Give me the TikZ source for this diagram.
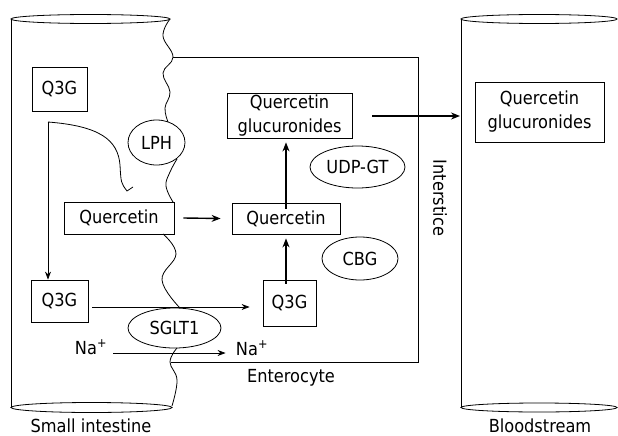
\documentclass[tikz,border=0pt]{standalone}
\usepackage{fontspec}
\setmainfont[FakeStretch=0.9]{DejaVu Sans}
\usetikzlibrary{arrows.meta,shapes.geometric}
\tikzset{
  box/.style={draw, inner sep=0pt, align=center},
  oval/.style={draw, ellipse, inner sep=0pt},
  arr/.style={-{Stealth[length=8pt,width=6pt]}},
  tarr/.style={-{Stealth[length=9pt,width=7pt]}, line width=1.4pt},
  lbl/.style={inner sep=0pt}
}
\begin{document}
\begin{tikzpicture}[x=1pt,y=-1pt, font=\fontsize{18}{24}\selectfont, line width=0.8pt]
\useasboundingbox (0,0) rectangle (618,436);

% small intestine cylinder
\draw (90.5,19) ellipse [x radius=79.5, y radius=4.5];
\draw (91.5,407.5) ellipse [x radius=80.5, y radius=5];
\draw (11,19) -- (11,407.5);

% bloodstream cylinder
\draw (539,19) ellipse [x radius=78, y radius=4.5];
\draw (539,407.5) ellipse [x radius=78, y radius=4.5];
\draw (461,19) -- (461,407.5);

% enterocyte box
\draw (173,57) -- (418,57) -- (418,362) -- (171,362);

% ellipses
\node[oval, minimum width=57, minimum height=45] (lph) at (156.5,142.5) {LPH};
\node[oval, minimum width=93, minimum height=40] (sglt) at (174.5,328) {SGLT1};
\node[oval, minimum width=95, minimum height=42] (udp) at (357.5,167) {UDP-GT};
\node[oval, minimum width=76, minimum height=43] (cbg) at (360,258.5) {CBG};

% boxes
\node[box, minimum width=55, minimum height=44] (q3gT) at (59.5,89) {Q3G};
\node[box, minimum width=57, minimum height=42] (q3gL) at (59.5,301) {Q3G};
\node[box, minimum width=53, minimum height=46] (q3gM) at (289.5,303) {Q3G};
\node[box, minimum width=110, minimum height=32] (qL) at (119,218) {Quercetin};
\node[box, minimum width=108, minimum height=31] (qM) at (286,218.5) {Quercetin};
\node[box, minimum width=125, minimum height=45] (qgM) at (289.5,115.5) {Quercetin\\glucuronides};
\node[box, minimum width=129, minimum height=60] (qgB) at (539.5,112) {Quercetin\\glucuronides};

% membrane (wavy)
\draw plot[smooth, tension=0.7] coordinates {(170,19) (163,36) (173,57) (163,73) (170,92) (165,108) (168,122)};
\draw plot[smooth, tension=0.7] coordinates {(177,159) (170,172) (166,186) (173,202)};
\draw plot[smooth, tension=0.7] coordinates {(163,234) (176,254) (162,280) (180,308)};
\draw plot[smooth, tension=0.7] coordinates {(177,348) (170,362) (177,380) (172,406)};

% labels
\node[lbl] (si) at (91,426) {Small intestine};
\node[lbl] (bs) at (540,426) {Bloodstream};
\node[lbl] (ent) at (291,378) {Enterocyte};
\node[lbl, rotate=-90] (int) at (440,198) {Interstice};
\node[lbl, anchor=base] (naL) at (91,354) {Na\textsuperscript{+}};
\node[lbl, anchor=base] (naR) at (252,355) {Na\textsuperscript{+}};

% connectors
\coordinate (split) at (48,122);
\draw (split) .. controls (100,126) and (118,140) .. (120,165) .. controls (121,183) .. (127,191) -- (133,187);
\draw[arr] (split) -- (split |- q3gL.north);
\draw[arr] ([xshift=4pt,yshift=-6pt]q3gL.east) -- ([xshift=-13pt,yshift=-4pt]q3gM.west);
\draw[arr] ([xshift=6pt]naL.east |- 0,353) -- ([xshift=-10pt]naR.west |- 0,353);
\draw[tarr] ([xshift=9pt]qL.east) -- ([xshift=-11pt]qM.west);
\draw[tarr] ([yshift=-4pt]q3gM.north -| qM.south) -- ([yshift=-4pt]qM.south);
\draw[tarr] ([yshift=-6pt]qM.north) -- ([yshift=-4pt]qgM.south -| qM.north);
\coordinate (bsin) at (460,116);
\draw[tarr] ([xshift=20pt]qgM.east |- bsin) -- (bsin);
\end{tikzpicture}
\end{document}
